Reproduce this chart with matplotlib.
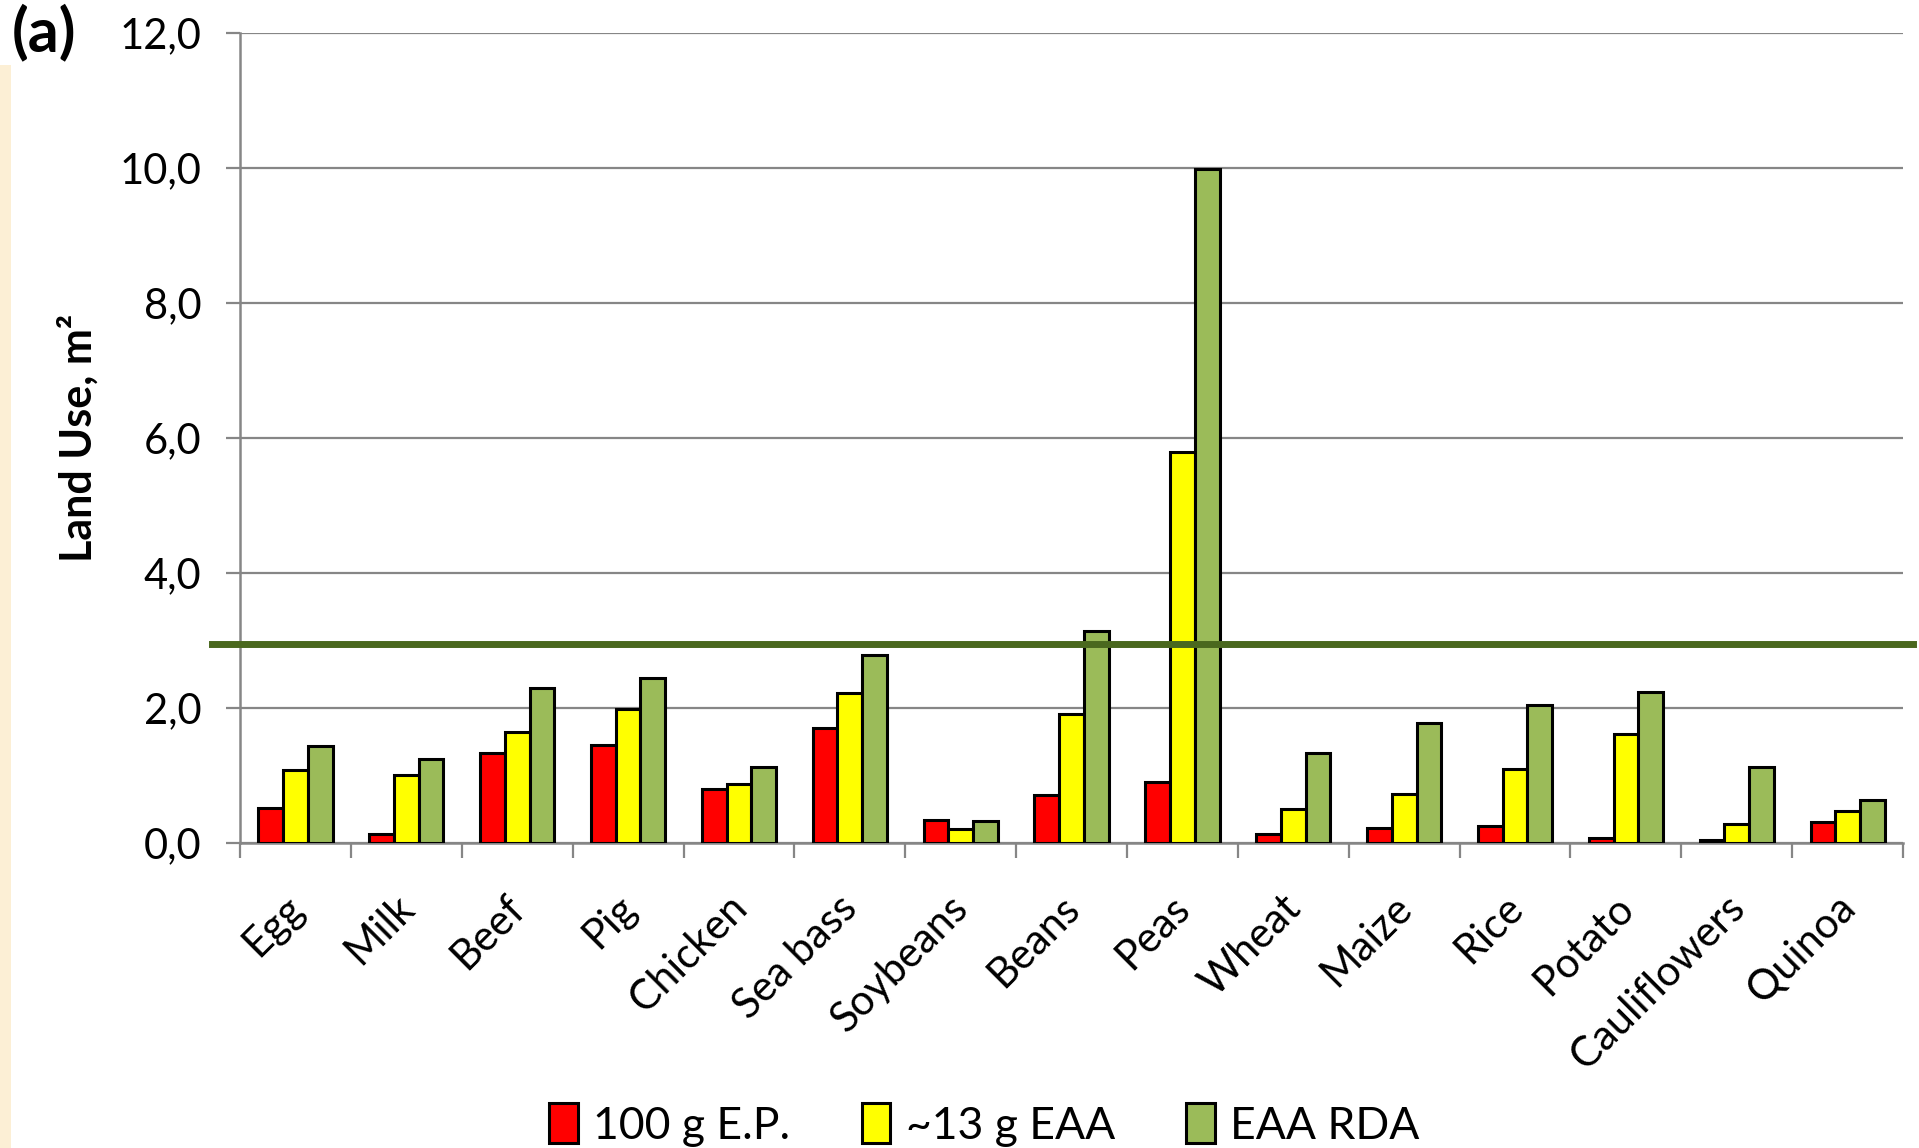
import matplotlib
matplotlib.use("Agg")
import matplotlib.pyplot as plt
import numpy as np
from matplotlib.patches import Rectangle
from matplotlib.transforms import ScaledTranslation

plt.rcParams["font.family"] = ["Lato", "DejaVu Sans"]

foods = ["Egg", "Milk", "Beef", "Pig", "Chicken", "Sea bass", "Soybeans", "Beans",
         "Peas", "Wheat", "Maize", "Rice", "Potato", "Cauliflowers", "Quinoa"]
per_100g_ep = [0.52, 0.13, 1.34, 1.45, 0.80, 1.70, 0.34, 0.71, 0.90, 0.14, 0.22, 0.25, 0.07, 0.05, 0.31]
per_13g_eaa = [1.08, 1.00, 1.64, 1.99, 0.87, 2.22, 0.21, 1.91, 5.79, 0.51, 0.73, 1.10, 1.61, 0.28, 0.47]
per_eaa_rda = [1.44, 1.25, 2.30, 2.45, 1.13, 2.79, 0.32, 3.14, 9.99, 1.34, 1.77, 2.04, 2.23, 1.12, 0.63]
series_labels = ["100 g E.P.", "~13 g EAA", "EAA RDA"]
series_colors = ["#FF0000", "#FFFF00", "#9BBB59"]
reference_level = 2.95
y_ticks = [0, 2, 4, 6, 8, 10, 12]

GRID = "#868686"

fig = plt.figure(figsize=(19.19, 11.48), dpi=100)
ax = fig.add_axes([0.1251, 0.2657, 0.8666, 0.7056])

# thin beige strip along the left page edge
fig.patches.append(Rectangle((0, 0), 0.0055, 0.943, transform=fig.transFigure,
                             facecolor="#FCEFD5", edgecolor="none", zorder=0))

x = np.arange(len(foods))
width = 0.223
for i, (vals, lab, col) in enumerate(zip([per_100g_ep, per_13g_eaa, per_eaa_rda],
                                         series_labels, series_colors)):
    ax.bar(x + (i - 1) * width, vals, width, color=col, edgecolor="black",
           linewidth=2.2, label=lab, zorder=3)

ax.axhline(reference_level, xmin=-0.017, xmax=1.006, color="#4A681E", linewidth=5,
           clip_on=False, zorder=4)

ax.set_xlim(-0.5, len(foods) - 0.5)
ax.set_ylim(0, 12)
ax.set_yticks(y_ticks)
ax.set_yticklabels([f"{v:.1f}".replace(".", ",") for v in y_ticks], fontsize=30)
ax.yaxis.grid(True, color=GRID, linewidth=1.6, zorder=0)
ax.set_axisbelow(True)

ax.set_xticks(x)
ax.set_xticklabels(foods, rotation=45, ha="right", rotation_mode="anchor", fontsize=30)
ax.set_xticks(np.arange(-0.5, len(foods)), minor=True)
ax.tick_params(axis="x", which="major", length=0, pad=24)
ax.tick_params(axis="x", which="minor", length=11, width=1.6, color=GRID)
ax.tick_params(axis="y", length=10, width=1.6, color=GRID, pad=18)
# nudge the slanted category names down and to the left
shift = ScaledTranslation(-0.12, -0.12, fig.dpi_scale_trans)
for lbl in ax.get_xticklabels():
    lbl.set_transform(lbl.get_transform() + shift)

for side in ["top", "right"]:
    ax.spines[side].set_visible(False)
for side in ["left", "bottom"]:
    ax.spines[side].set_color(GRID)
    ax.spines[side].set_linewidth(1.8)

ax.set_ylabel("Land Use, m²", fontsize=31, fontweight="bold")
ax.yaxis.set_label_coords(-0.085, 0.5)

fig.text(0.006, 0.972, "(a)", fontsize=44, fontweight="bold", va="center", ha="left")

leg = ax.legend(loc="center", bbox_to_anchor=(0.513, 0.02), bbox_transform=fig.transFigure,
                ncol=3, frameon=False, fontsize=32, handlelength=0.64, handleheight=1.0,
                handletextpad=0.35, columnspacing=1.6)

fig.savefig("out.png", dpi=100)
